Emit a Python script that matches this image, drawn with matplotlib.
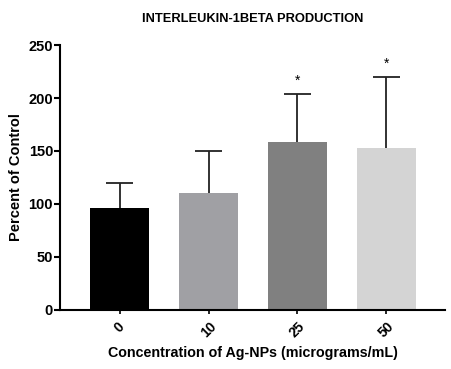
import numpy as np
import matplotlib.pyplot as plt

plt.rcParams['font.family'] = ['Liberation Sans', 'DejaVu Sans']

# data
conc = ['0', '10', '25', '50']
means = [96.5, 110.5, 158.5, 153]
upper_err = [23.5, 39.5, 45.5, 67]
stars = ['', '', '*', '*']
colors = ['#000000', '#a0a0a4', '#808080', '#d4d4d4']

fig = plt.figure(figsize=(4.51, 3.69), dpi=100)
ax = fig.add_axes([0.133, 0.160, 0.854, 0.718])

x = np.arange(len(conc))
tops = np.array(means) + np.array(upper_err)
ax.bar(x, means, width=0.66, color=colors, zorder=2)
# upper-only error bars, cap only at the top
ax.vlines(x, means, tops, color='#222222', lw=1.3, zorder=1)
ax.hlines(tops, x - 0.15, x + 0.15, color='#222222', lw=1.3, zorder=1)

for xi, t, s in zip(x, tops, stars):
    if s:
        ax.text(xi, t + 6, s, ha='center', va='bottom', fontsize=10)

ax.set_xlim(-0.67, 3.66)
ax.set_ylim(0, 250)
ax.set_yticks([0, 50, 100, 150, 200, 250])
ax.set_xticks(x)
ax.set_xticklabels(conc, rotation=45, ha='center', fontsize=10, fontweight='bold')
for lbl in ax.get_yticklabels():
    lbl.set_fontweight('bold')
    lbl.set_fontsize(10.5)

ax.spines['top'].set_visible(False)
ax.spines['right'].set_visible(False)
ax.spines['left'].set_linewidth(1.5)
ax.spines['bottom'].set_linewidth(1.5)
ax.tick_params(axis='y', width=1.5, length=4, pad=1)
ax.tick_params(axis='x', width=1.2, length=3, pad=4)

ax.set_xlabel('Concentration of Ag-NPs (micrograms/mL)', fontsize=10.3, fontweight='bold')
ax.set_ylabel('Percent of Control', fontsize=10.5, fontweight='bold')
fig.text(0.561, 0.948, 'INTERLEUKIN-1BETA PRODUCTION', ha='center', va='center',
         fontsize=9.3, fontweight='bold')

fig.savefig('out.png', dpi=100)
